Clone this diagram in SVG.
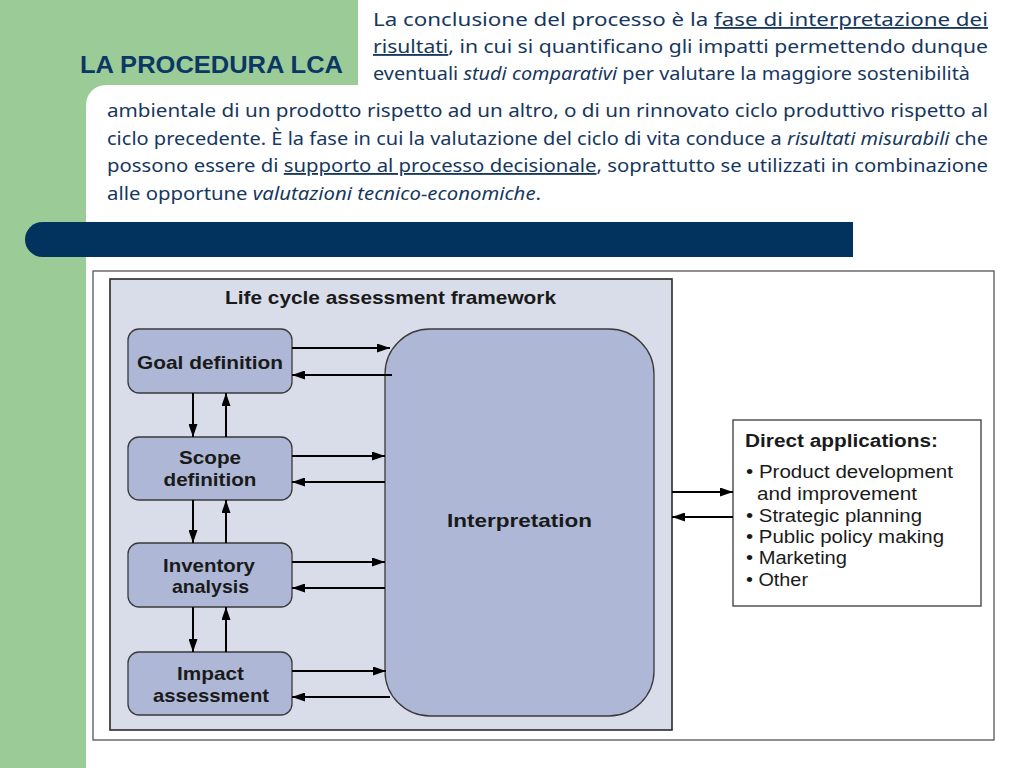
<svg xmlns="http://www.w3.org/2000/svg" width="1024" height="768" viewBox="0 0 1024 768">
<defs>
<style>
.body{font-family:"Noto Sans","Open Sans",sans-serif;font-size:18.5px;fill:#17375e}
.dg{font-family:"Liberation Sans",Arial,sans-serif;font-weight:bold;font-size:19px;fill:#1a1a1a;text-anchor:middle}
.li{font-family:"Liberation Sans",Arial,sans-serif;font-size:17.5px;fill:#1a1a1a}
.node{fill:#aeb8d6;stroke:#3a3a3a;stroke-width:1.3}
.conn line{stroke:#000;stroke-width:2}
</style>
<marker id="ah" markerUnits="userSpaceOnUse" markerWidth="13" markerHeight="9" refX="13" refY="4.5" orient="auto">
<path d="M0,0 L13,4.5 L0,9 Z" fill="#000"/>
</marker>
</defs>
<rect width="1024" height="768" fill="#fff"/>
<path d="M0,0 H358 V85 H106 A20,20 0 0 0 86,105 V768 H0 Z" fill="#9bcb96"/>
<text x="80" y="73" font-family="Liberation Sans,Arial,sans-serif" font-weight="bold" font-size="24.5" fill="#0c3765" textLength="263" lengthAdjust="spacingAndGlyphs">LA PROCEDURA LCA</text>

<g id="intro-text">
<text class="body" x="373" y="26" textLength="615" lengthAdjust="spacingAndGlyphs">La conclusione del processo è la <tspan text-decoration="underline">fase di interpretazione dei</tspan></text>
<text class="body" x="373" y="53" textLength="615" lengthAdjust="spacingAndGlyphs"><tspan text-decoration="underline">risultati</tspan>, in cui si quantificano gli impatti permettendo dunque</text>
<text class="body" x="373" y="80" textLength="597" lengthAdjust="spacingAndGlyphs">eventuali <tspan font-style="italic">studi comparativi</tspan> per valutare la maggiore sostenibilità</text>
<text class="body" x="107" y="117" textLength="881" lengthAdjust="spacingAndGlyphs">ambientale di un prodotto rispetto ad un altro, o di un rinnovato ciclo produttivo rispetto al</text>
<text class="body" x="107" y="145" textLength="881" lengthAdjust="spacingAndGlyphs">ciclo precedente. È la fase in cui la valutazione del ciclo di vita conduce a <tspan font-style="italic">risultati misurabili</tspan> che</text>
<text class="body" x="107" y="172" textLength="881" lengthAdjust="spacingAndGlyphs">possono essere di <tspan text-decoration="underline">supporto al processo decisionale</tspan>, soprattutto se utilizzati in combinazione</text>
<text class="body" x="107" y="200" textLength="434" lengthAdjust="spacingAndGlyphs">alle opportune <tspan font-style="italic">valutazioni tecnico-economiche</tspan>.</text>
</g>

<path d="M42.5,222 H853 V257 H42.5 A17.5,17.5 0 0 1 42.5,222 Z" fill="#02335f"/>

<rect x="93" y="271" width="901" height="469" fill="#fff" stroke="#555" stroke-width="1.3"/>

<g id="framework">
<rect x="110" y="279" width="562" height="451" fill="#d9dde9" stroke="#2a2a2a" stroke-width="1.6"/>
<text class="dg" x="390.5" y="304" textLength="331" lengthAdjust="spacingAndGlyphs">Life cycle assessment framework</text>
</g>

<g id="goal">
<rect class="node" x="128" y="329" width="164" height="64" rx="11"/>
<text class="dg" x="210" y="369" textLength="146" lengthAdjust="spacingAndGlyphs">Goal definition</text>
</g>
<g id="scope">
<rect class="node" x="128" y="437" width="164" height="63" rx="11"/>
<text class="dg" x="210" y="464" textLength="62" lengthAdjust="spacingAndGlyphs">Scope</text>
<text class="dg" x="210" y="486" textLength="93" lengthAdjust="spacingAndGlyphs">definition</text>
</g>
<g id="inventory">
<rect class="node" x="128" y="543" width="164" height="64" rx="11"/>
<text class="dg" x="209" y="572" textLength="92" lengthAdjust="spacingAndGlyphs">Inventory</text>
<text class="dg" x="210.5" y="593" textLength="77" lengthAdjust="spacingAndGlyphs">analysis</text>
</g>
<g id="impact">
<rect class="node" x="128" y="652" width="164" height="63" rx="11"/>
<text class="dg" x="210.5" y="680" textLength="67" lengthAdjust="spacingAndGlyphs">Impact</text>
<text class="dg" x="211" y="702" textLength="116" lengthAdjust="spacingAndGlyphs">assessment</text>
</g>
<g id="interpretation">
<rect class="node" x="385" y="329" width="269" height="387" rx="45"/>
<text class="dg" x="519.5" y="527" textLength="145" lengthAdjust="spacingAndGlyphs">Interpretation</text>
</g>
<g id="applications">
<rect x="733" y="420" width="248" height="186" fill="#fff" stroke="#3a3a3a" stroke-width="1.3"/>
<text class="li" x="745" y="447" font-weight="bold" textLength="193" lengthAdjust="spacingAndGlyphs">Direct applications:</text>
<text class="li" x="746" y="478" textLength="207" lengthAdjust="spacingAndGlyphs">• Product development</text>
<text class="li" x="757" y="500" textLength="160" lengthAdjust="spacingAndGlyphs">and improvement</text>
<text class="li" x="746" y="522" textLength="176" lengthAdjust="spacingAndGlyphs">• Strategic planning</text>
<text class="li" x="746" y="543" textLength="198" lengthAdjust="spacingAndGlyphs">• Public policy making</text>
<text class="li" x="746" y="564" textLength="101" lengthAdjust="spacingAndGlyphs">• Marketing</text>
<text class="li" x="746" y="586" textLength="62" lengthAdjust="spacingAndGlyphs">• Other</text>
</g>

<g id="connectors" class="conn">
<line x1="292" y1="348" x2="390" y2="348" marker-end="url(#ah)"/>
<line x1="392" y1="375" x2="292" y2="375" marker-end="url(#ah)"/>
<line x1="292" y1="456" x2="385" y2="456" marker-end="url(#ah)"/>
<line x1="385" y1="482" x2="292" y2="482" marker-end="url(#ah)"/>
<line x1="292" y1="562" x2="385" y2="562" marker-end="url(#ah)"/>
<line x1="385" y1="588" x2="292" y2="588" marker-end="url(#ah)"/>
<line x1="292" y1="671" x2="386" y2="671" marker-end="url(#ah)"/>
<line x1="390" y1="697" x2="292" y2="697" marker-end="url(#ah)"/>
<line x1="193" y1="393" x2="193" y2="437" marker-end="url(#ah)"/>
<line x1="226" y1="437" x2="226" y2="393" marker-end="url(#ah)"/>
<line x1="193" y1="500" x2="193" y2="543" marker-end="url(#ah)"/>
<line x1="226" y1="543" x2="226" y2="500" marker-end="url(#ah)"/>
<line x1="193" y1="607" x2="193" y2="652" marker-end="url(#ah)"/>
<line x1="226" y1="652" x2="226" y2="607" marker-end="url(#ah)"/>
<line x1="672" y1="492" x2="733" y2="492" marker-end="url(#ah)"/>
<line x1="733" y1="517" x2="672" y2="517" marker-end="url(#ah)"/>
</g>
</svg>
